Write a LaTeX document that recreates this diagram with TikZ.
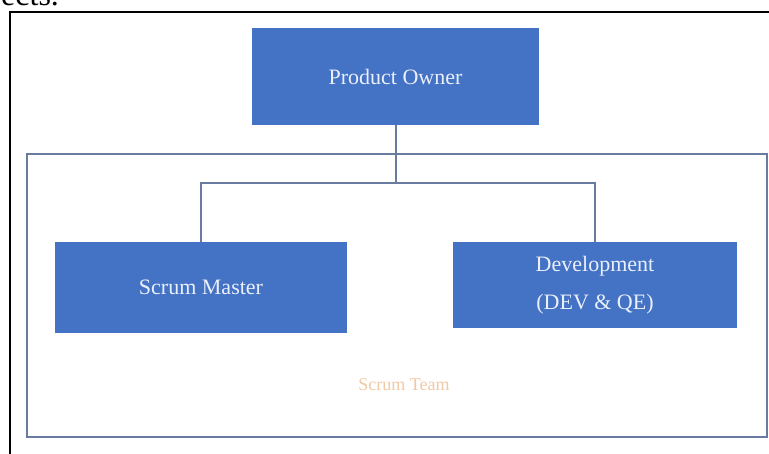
\documentclass[tikz,border=0pt]{standalone}
\usepackage{fontspec}
\setmainfont{Liberation Serif}
\usepackage{xcolor}
\usetikzlibrary{positioning}

\definecolor{boxblue}{HTML}{4472C4}
\definecolor{linegray}{HTML}{6A7BA0}
\definecolor{teamorange}{HTML}{F2C9A5}
\definecolor{labelwhite}{HTML}{EAF0FA}

\tikzset{
    rolebox/.style={rectangle, fill=boxblue, text=labelwhite, align=center,
        inner sep=0pt, font=\fontsize{22}{38}\selectfont},
    orgline/.style={draw=linegray, line width=2pt}
}

\begin{document}
\begin{tikzpicture}[x=1pt, y=-1pt]
    % page area
    \fill[white] (0,0) rectangle (769,453);
    \useasboundingbox (0,0) rectangle (769,453);
    \begin{scope}
        \clip (0,0) rectangle (769,453);
        \node[anchor=base west, inner sep=0pt, font=\fontsize{32}{36}\selectfont] (pagetext) at (1,5) {ects.};
        \draw[black, line width=1.6pt] (10,470) -- (10,12) -- (790,12);
    \end{scope}

    % team frame
    \draw[draw=linegray, line width=2pt] (27,154) rectangle (767,437);
    \node[text=teamorange, font=\fontsize{18}{20}\selectfont] (team) at (404,385) {Scrum Team};

    % roles
    \node[rolebox, minimum width=287pt, minimum height=97pt] (owner) at (395.5,76.5) {Product Owner};
    \node[rolebox, minimum width=292pt, minimum height=91pt] (master) at (201,287.5) {Scrum Master};
    \node[rolebox, minimum width=284pt, minimum height=86pt] (dev) at (595,285) {Development\\(DEV \& QE)};

    % connectors
    \coordinate (bus) at (owner.south |- 0,183);
    \draw[orgline] (owner.south) -- (bus);
    \draw[orgline] (master.north) |- (bus) -| (dev.north);
\end{tikzpicture}
\end{document}
